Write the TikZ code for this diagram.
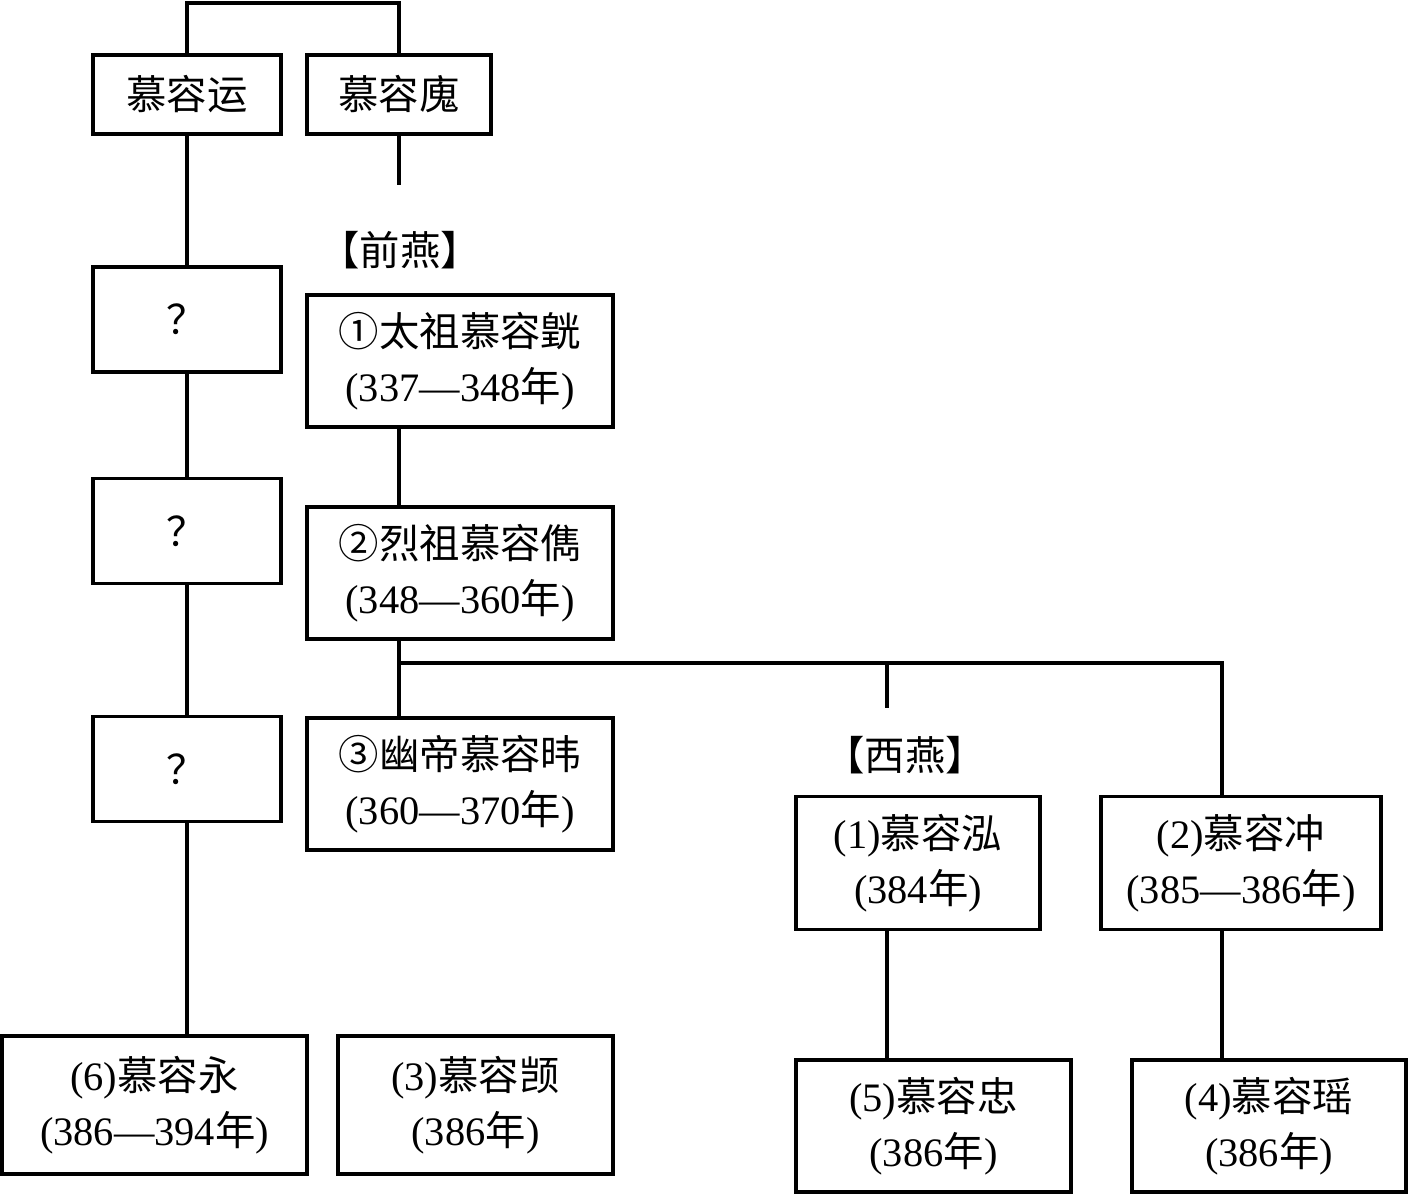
\documentclass[tikz,border=0pt]{standalone}
\usepackage{fontspec}
\setmainfont{Liberation Serif}
\newfontfamily\cjk{Noto Sans CJK SC}
\newcommand{\zh}[1]{{\cjk #1}}
\tikzset{
  box/.style 2 args={draw, rectangle, inner sep=0pt, align=center,
    minimum width=#1, minimum height=#2, font=\fontsize{23}{31}\selectfont},
  lbl/.style={inner sep=0pt, font=\fontsize{23}{28}\selectfont}
}
\begin{document}
\begin{tikzpicture}[x=0.02cm, y=-0.02cm, line width=1.8pt]
          \useasboundingbox (0,0) rectangle (1409,1195);
          % ancestors
          \node[box={3.76cm}{1.58cm}] (yun) at (187,94.5){\zh{慕容运}};
          \node[box={3.68cm}{1.58cm}] (hui) at (399,94.5){\zh{慕容廆}};
          \coordinate (top) at (292,3);
          \draw (yun.north) |- (top) -| (hui.north);
          % left line
          \node[box={3.76cm}{2.1cm}] (q1) at (187,319.5){\zh{？}};
          \node[box={3.76cm}{2.1cm}] (q2) at (187,531){\zh{？}};
          \node[box={3.76cm}{2.1cm}] (q3) at (187,769){\zh{？}};
          \node[box={6.1cm}{2.76cm}] (yong) at (154.5,1105){(6)\zh{慕容永}\\(386—394\zh{年})};
          \node[box={5.5cm}{2.76cm}] (kai) at (475.5,1105){(3)\zh{慕容𫖮}\\(386\zh{年})};
          \draw (yun.south) -- (q1.north);
          \draw (q1.south) -- (q2.north);
          \draw (q2.south) -- (q3.north);
          \draw (q3.south) -- (q3.south |- yong.north);
          % Former Yan
          \coordinate (qyend) at (399,185);
          \draw (hui.south) -- (qyend);
          \node[lbl] (qylbl) at (400,250){\zh{【前燕】}};
          \node[box={6.12cm}{2.64cm}] (qy1) at (460,361){\zh{①太祖慕容皝}\\(337—348\zh{年})};
          \node[box={6.12cm}{2.64cm}] (qy2) at (460,573){\zh{②烈祖慕容儁}\\(348—360\zh{年})};
          \node[box={6.12cm}{2.64cm}] (qy3) at (460,784){\zh{③幽帝慕容𬀩}\\(360—370\zh{年})};
          \draw (hui.south |- qy1.south) -- (hui.south |- qy2.north);
          \draw (hui.south |- qy2.south) -- (hui.south |- qy3.north);
          % Western Yan
          \coordinate (bl) at (399,663);
          \coordinate (bm) at (887,663);
          \coordinate (br) at (1222,663);
          \coordinate (xyend) at (887,708);
          \node[box={4.88cm}{2.66cm}] (xy1) at (918,863){(1)\zh{慕容泓}\\(384\zh{年})};
          \node[box={5.6cm}{2.66cm}] (xy2) at (1241,863){(2)\zh{慕容冲}\\(385—386\zh{年})};
          \node[box={5.5cm}{2.64cm}] (xy5) at (933.5,1126){(5)\zh{慕容忠}\\(386\zh{年})};
          \node[box={5.48cm}{2.64cm}] (xy4) at (1269,1126){(4)\zh{慕容瑶}\\(386\zh{年})};
          \draw (bl) -- (br) -- (br |- xy2.north);
          \draw (bm) -- (xyend);
          \node[lbl] (xylbl) at (905,755){\zh{【西燕】}};
          \draw (bm |- xy1.south) -- (bm |- xy5.north);
          \draw (br |- xy2.south) -- (br |- xy4.north);
        \end{tikzpicture}
\end{document}
